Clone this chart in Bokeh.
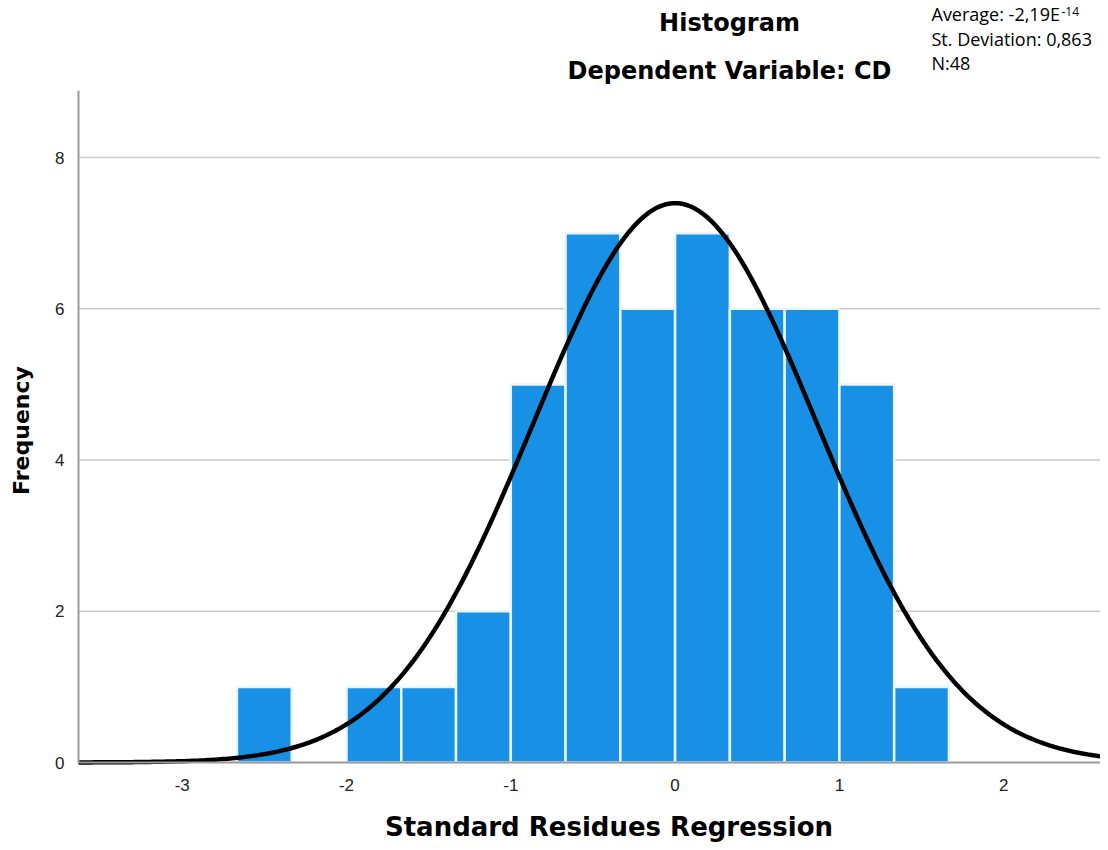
import numpy as np
from bokeh.plotting import figure
from bokeh.models import Range1d, FixedTicker, Label, ColumnDataSource
from bokeh.embed import file_html
from bokeh.resources import INLINE

# ---- data ----
bin_left = [-8/3, -2.0, -5/3, -4/3, -1.0, -2/3, -1/3, 0.0, 1/3, 2/3, 1.0, 4/3]
counts = [1, 1, 1, 2, 5, 7, 6, 7, 6, 6, 5, 1]
bin_width = 1/3
mean_val = -2.19e-14
sd_val = 0.863
n_val = 48
x_ticks = [-3, -2, -1, 0, 1, 2]
x_tick_labels = ["-3", "-2", "-1", "0", "1", "2"]
y_ticks = [0, 2, 4, 6, 8]
title1 = "Histogram"
title2 = "Dependent Variable: CD"
xlabel = "Standard Residues Regression"
ylabel = "Frequency"
stats_lines = ["Average: -2,19E", "St. Deviation: 0,863", "N:48"]
stats_sup = "-14"

# ---- layout: the frame covers the whole canvas; axes sit at fixed locations ----
W, H = 1100, 842
PX_PER_X, PX_ZERO_X = 164.3, 674.6   # canvas px per x unit, canvas px of x = 0
PX_PER_Y, PX_ZERO_Y = 75.625, 762.0  # canvas px per y unit, canvas px of y = 0
AXIS_LEFT_PX, AXIS_TOP_PX = 78, 90


def dx(px):
    return (px - PX_ZERO_X) / PX_PER_X


def dy(py):
    return (PX_ZERO_Y - py) / PX_PER_Y


p = figure(width=W, height=H, output_backend="svg", toolbar_location=None,
           x_range=Range1d(dx(0), dx(W)), y_range=Range1d(dy(H), dy(0)),
           min_border_left=0, min_border_right=0, min_border_top=0, min_border_bottom=0)
p.outline_line_color = None
p.background_fill_color = "white"
p.border_fill_color = "white"
p.xgrid.visible = False
p.ygrid.visible = False

x_axis_start = dx(AXIS_LEFT_PX)
x_axis_end = dx(W)
y_axis_top = dy(AXIS_TOP_PX)

# horizontal grid lines at the y ticks (behind the bars)
grid_y = [t for t in y_ticks if t != 0]
p.segment(x0=[x_axis_start] * len(grid_y), x1=[x_axis_end] * len(grid_y),
          y0=grid_y, y1=grid_y, line_color="#c8c8c8", line_width=1.5)

# bars
src = ColumnDataSource(dict(left=bin_left,
                            right=[b + bin_width for b in bin_left],
                            top=counts))
p.quad(left="left", right="right", bottom=0, top="top", source=src,
       fill_color="#1790E5", line_color="#EAF5FD", line_width=2.5)

# normal curve from the stated mean / sd / N
xs = np.linspace(x_axis_start, x_axis_end, 400)
ys = n_val * bin_width * np.exp(-0.5 * ((xs - mean_val) / sd_val) ** 2) / (sd_val * np.sqrt(2 * np.pi))
p.line(xs, ys, line_color="black", line_width=4.5)

# axes drawn at fixed positions inside the frame
p.xaxis.fixed_location = 0
p.xaxis.bounds = (x_axis_start, x_axis_end)
p.xaxis.ticker = FixedTicker(ticks=x_ticks)
p.xaxis.major_label_overrides = {t: s for t, s in zip(x_ticks, x_tick_labels)}
p.yaxis.fixed_location = x_axis_start
p.yaxis.bounds = (0, y_axis_top)
p.yaxis.ticker = FixedTicker(ticks=y_ticks)
for ax in (p.xaxis[0], p.yaxis[0]):
    ax.major_tick_line_color = None
    ax.minor_tick_line_color = None
    ax.axis_line_color = "#9a9a9a"
    ax.axis_line_width = 2
    ax.major_label_text_font = "Liberation Sans"
    ax.major_label_text_font_size = "17px"
    ax.major_label_text_color = "#222222"
p.xaxis.major_label_standoff = 10
p.yaxis.major_label_standoff = 8


def add_text(px, py, text, size, font="DejaVu Sans", style="bold", align="center", angle=0.0):
    # (px, py): canvas pixel of the text's horizontal anchor and vertical middle
    p.add_layout(Label(x=dx(px), y=dy(py), text=text, text_align=align,
                       text_baseline="middle", text_font=font, text_font_style=style,
                       text_font_size=size, text_color="black", angle=angle))


# axis titles
add_text(608.5, 826, xlabel, "26px")
add_text(21, 430, ylabel, "22px", angle=np.pi / 2)

# chart titles
add_text(729, 22.5, title1, "24px")
add_text(729, 70, title2, "24px")

# statistics box
for i, t in enumerate(stats_lines):
    add_text(931, 13.5 + 24.5 * i, t, "18px", font="Open Sans", style="normal", align="left")
add_text(1061, 10.5, stats_sup, "12px", font="Open Sans", style="normal", align="left")

open("out.html", "w").write(file_html(p, INLINE))
